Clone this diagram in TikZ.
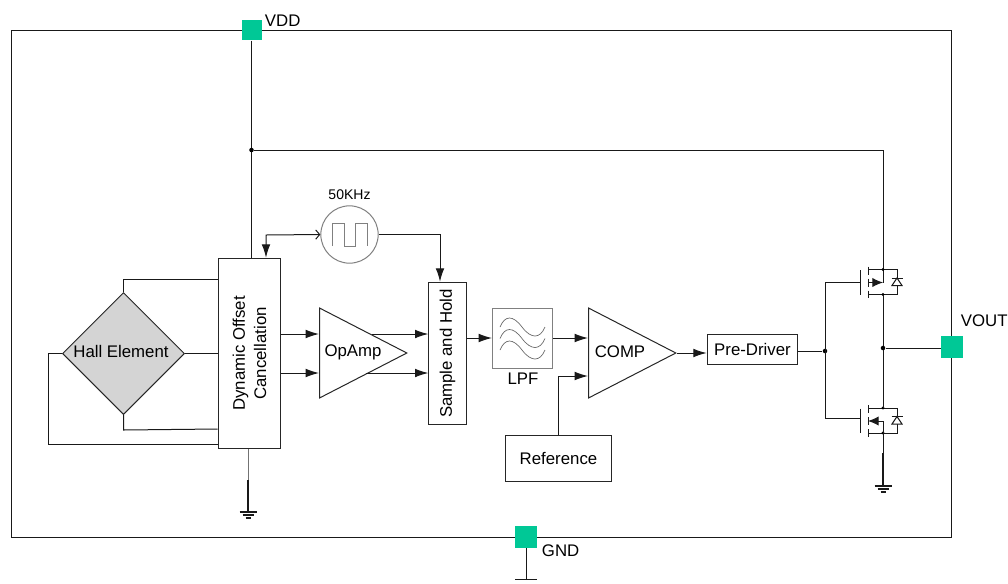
\documentclass[tikz,border=0pt]{standalone}
\usepackage{fontspec}
\setmainfont{Liberation Sans}
\usetikzlibrary{arrows.meta,shapes.geometric}
\definecolor{padgreen}{HTML}{00C896}
\begin{document}
\begin{tikzpicture}[x=0.75pt,y=-0.75pt,
    line width=0.75pt,
    every node/.style={font=\fontsize{12.6}{15}\selectfont},
    wire/.style={draw=black!90},
    flow/.style={wire,-{Latex[length=10pt,width=6.5pt]}},
    block/.style={draw=black!85,fill=white,inner sep=0pt},
    pad/.style={fill=padgreen,inner sep=0pt,minimum size=16pt},
    amp/.style={draw=black!85,fill=white,isosceles triangle,isosceles triangle stretches,
      shape border rotate=0,anchor=west,inner sep=0pt,minimum width=67.5pt,minimum height=65.5pt},
    dot/.style={circle,fill=black,inner sep=0pt,minimum size=3.4pt}]

  \useasboundingbox (0,0) rectangle (1008,583);

  % Package outline and pads
  \draw[wire] (11,30) rectangle (951,537);
  \node[pad,minimum size=15pt] (vdd) at (251.5,30) {};
  \node[pad] (gnd) at (526,537) {};
  \node[pad] (vout) at (952,347) {};
  \node[right] (vddlabel) at (260,21) {VDD};
  \node[right] (gndlabel) at (537,551) {GND};
  \node[right] (voutlabel) at (956,321) {VOUT};

  % Blocks
  \node[block,minimum width=47pt,minimum height=143pt] (doc) at (249.5,353.5) {};
  \node[rotate=90,align=center,font=\fontsize{12.6}{16}\selectfont] (doclabel) at (doc) {Dynamic Offset\\Cancellation};
  \node[block,diamond,fill=black!17,minimum width=91.5pt,minimum height=91.5pt] (hall) at (123.5,353.5) {};
  \node (halllabel) at (121,351) {Hall Element};
  \node[amp] (opamp) at (319,353) {};
  \node (opamplabel) at (353,352) {OpAmp};
  \node[block,minimum width=28pt,minimum height=107pt] (sample) at (447.5,353.5) {};
  \node[rotate=90] (samplelabel) at (sample) {Sample and Hold};
  \node[block,draw=black!50,minimum width=45pt,minimum height=45pt] (lpf) at (522.5,338) {};
  \node (lpflabel) at (523,379) {LPF};
  \node[amp] (comp) at (588,353) {};
  \node (complabel) at (620,352) {COMP};
  \node[block,minimum width=68pt,minimum height=22.5pt] (driver) at (752.5,349) {Pre-Driver};
  \node[block,minimum width=79pt,minimum height=34.5pt] (ref) at (558.5,458) {Reference};

  % Clock
  \node[block,circle,draw=black!50,minimum size=43pt] (clock) at (349.5,234.5) {};
  \node[font=\fontsize{10.5}{12}\selectfont] (clocklabel) at (349.5,195) {50KHz};
  \draw[black!50] (332,246) -- (332,223) -- (344,223) -- (344,246) -- (355,246) -- (355,223) -- (367,223) -- (367,246);

  % Filter curves
  \foreach \off in {0,11.5,23}
    \draw[black!60,line width=0.5pt] (500,327+\off) .. controls (505,315+\off) and (513,315+\off) .. (522,327+\off)
      .. controls (531,339+\off) and (540,339+\off) .. (545,327+\off);

  % Levels
  \coordinate (railv) at (0,150);
  \coordinate (clky) at (0,235);
  \coordinate (docx) at (266,0);
  \coordinate (spx) at (440,0);
  \coordinate (upper) at (0,334);
  \coordinate (lower) at (0,373);
  \coordinate (outu) at (372,334);
  \coordinate (outl) at (366,373);
  \coordinate (gnda) at (248,510);
  \coordinate (gndb) at (883,484);
  \coordinate (gndc) at (526,579);

  % Supply
  \draw[wire] (vdd) -- (vdd |- doc.north);
  \node[dot] (jvdd) at (vdd |- railv) {};
  \coordinate (railc) at (883,150);
  \coordinate (qh) at (883,282.5);
  \coordinate (ql) at (883,421);
  \draw[wire] (jvdd) -- (railc) -- (qh);

  % Hall connections
  \draw[wire] (hall.north) -- (123.5,279) -- (doc.west |- 0,279);
  \draw[wire] (hall.east) -- (doc.west |- hall.east);
  \draw[wire] (hall.south) -- (123.5,430) -- (doc.west |- 0,429);
  \draw[wire] (hall.west) -- (48,353.5) -- (48,444) -- (doc.west |- 0,444);

  % Signal path
  \draw[wire,{Latex[length=10pt,width=6.5pt]}-{Straight Barb[length=3pt,width=7pt]}] (doc.north -| docx) -- (docx |- clky) -- (clock.west);
  \draw[flow] (clock.east) -- (spx |- clock.east) -- (spx |- sample.north);
  \draw[flow] (doc.east |- upper) -- (opamp.west |- upper);
  \draw[flow] (doc.east |- lower) -- (opamp.west |- lower);
  \draw[flow] (outu) -- (sample.west |- outu);
  \draw[flow] (outl) -- (sample.west |- outl);
  \draw[flow] (sample.east |- lpf.west) -- (lpf.west);
  \draw[flow] (lpf.east) -- (comp.west |- lpf.east);
  \draw[flow] (ref.north) -- (ref.north |- 0,376) -- (comp.west |- 0,376);
  \draw[flow] (comp.east) -- (driver.west |- comp.east);

  % Gate drive
  \node[dot] (jgate) at (825,351) {};
  \draw[wire] (driver.east |- jgate) -- (jgate);
  \draw[wire] (860,282.5) -- (825,282.5) -- (825,418.5) -- (860,418.5);

  % Output stage
  \foreach \q in {qh,ql}{
    \begin{scope}[shift={(\q)}]
      \draw[wire] (-23,-12.5) -- (-23,12);
      \draw[wire] (-15,-16) -- (-15,-8);
      \draw[wire] (-15,-4) -- (-15,4);
      \draw[wire] (-15,8) -- (-15,15.5);
      \draw[wire] (-15,-13) -- (14,-13) -- (14,12) -- (-15,12);
      \draw[wire,fill=white] (9,3) -- (19,3) -- (14,-4.5) -- cycle;
      \draw[wire] (8.5,-4.5) -- (19.5,-4.5);
      \fill (0,-13) circle (1.2pt);
      \fill (0,12) circle (1.2pt);
    \end{scope}
  }
  \draw[wire,-{Latex[length=8pt,width=7pt]}] (868,282.5) -- (qh);
  \draw[wire,-{Latex[length=8pt,width=7pt]}] (ql) -- (868,421);
  \draw[wire] (883,294.5) -- (883,408);
  \draw[wire] (ql) -- (gndb);
  \node[dot] (jout) at (883,348) {};
  \draw[wire] (jout) -- (vout.west |- jout);

  % Grounds
  \draw[black!55] (doc.south -| gnda) -- (gnda);
  \draw[wire,line width=1pt] (248,480) -- (gnda);
  \draw[wire,line width=1pt] (883,453) -- (gndb);
  \foreach \g in {gnda,gndb}{
    \begin{scope}[shift={(\g)}]
      \draw[wire,line width=1pt] (0,-4) -- (0,2);
      \draw[wire,line width=1pt] (-8.5,2) -- (8.5,2);
      \draw[wire,line width=1pt] (-5.5,5) -- (5.5,5);
      \draw[wire,line width=1pt] (-2.5,8) -- (2.5,8);
    \end{scope}
  }
  \draw[wire] (gnd) -- (gndc);
  \draw[wire] (515,579) -- (537,579);

  % Pads on top
  \node[pad,minimum size=15pt] at (vdd) {};
  \node[pad] at (gnd) {};
  \node[pad] at (vout) {};

\end{tikzpicture}
\end{document}
